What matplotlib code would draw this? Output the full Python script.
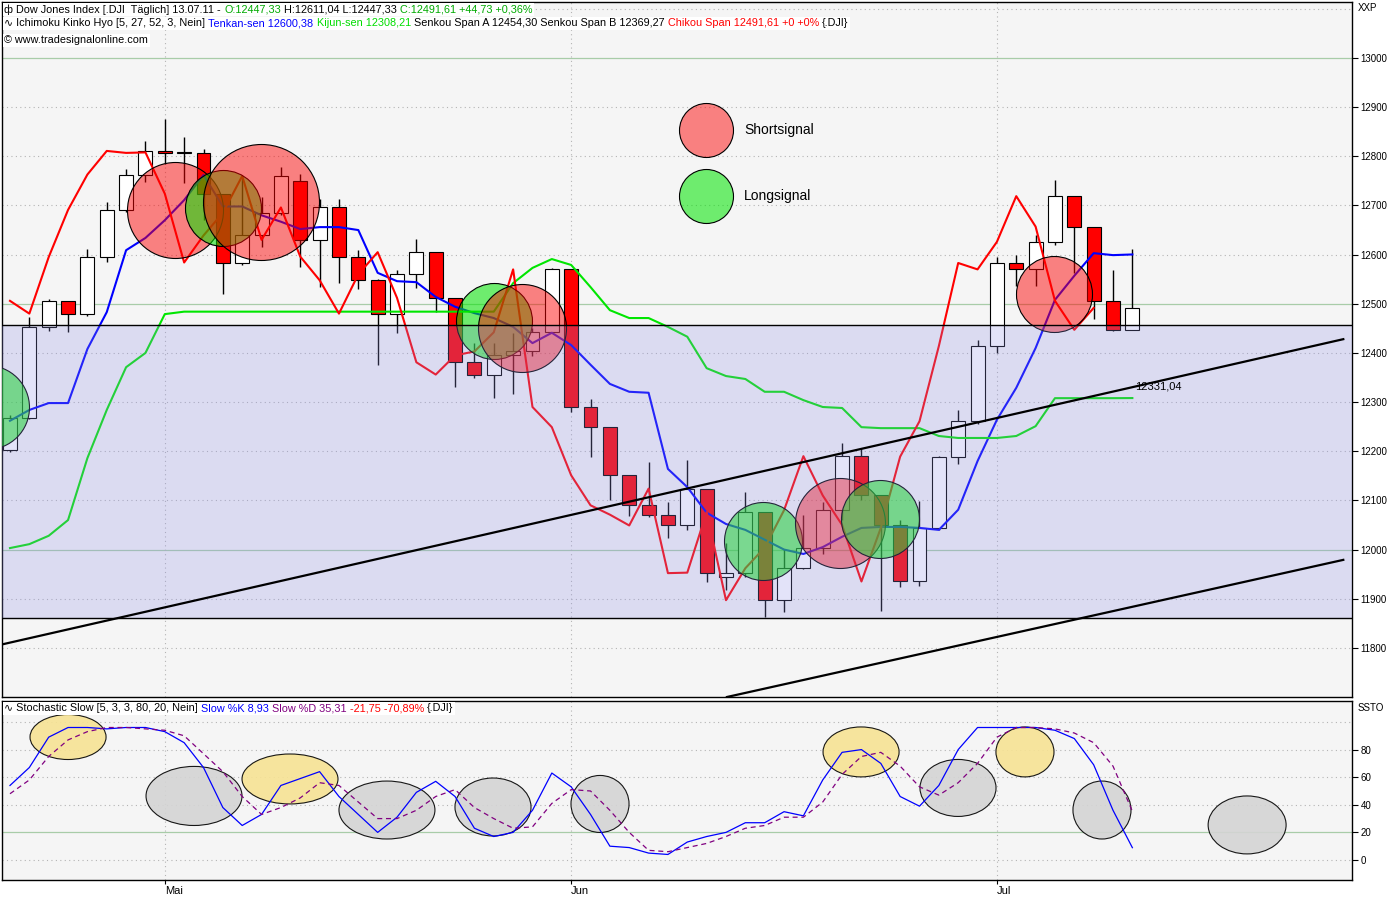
import matplotlib
matplotlib.use("Agg")
import matplotlib.pyplot as plt
from matplotlib.colors import to_rgba
from matplotlib.patches import Ellipse
from matplotlib.offsetbox import TextArea, HPacker, AnchoredOffsetbox

plt.rcParams['font.family'] = ['Liberation Sans', 'DejaVu Sans']

# daily bars 19.04.11 .. 13.07.11 (x = bar number)
opens = [12202, 12267, 12453, 12505, 12480, 12595, 12691, 12763, 12811, 12807,
         12807, 12724, 12584, 12639, 12685, 12750, 12630, 12696, 12596, 12548,
         12480, 12560, 12605, 12512, 12381, 12356, 12395, 12403, 12442, 12570,
         12290, 12249, 12151, 12090, 12071, 12049, 12124, 11945, 11953, 12076,
         11897, 11962, 12004, 12080, 12190, 12110, 12050, 11935, 12044, 12189,
         12261, 12414, 12583, 12570, 12626, 12719, 12657, 12506, 12447.33]
highs = [12274, 12474, 12510, 12506, 12611, 12707, 12774, 12831, 12876, 12839,
         12815, 12724, 12760, 12717, 12778, 12765, 12713, 12713, 12610, 12550,
         12569, 12632, 12605, 12512, 12420, 12420, 12441, 12450, 12573, 12570,
         12306, 12249, 12151, 12178, 12097, 12182, 12124, 12013, 12117, 12076,
         12001, 12070, 12097, 12217, 12207, 12110, 12060, 12099, 12190, 12284,
         12426, 12595, 12600, 12640, 12752, 12719, 12657, 12569, 12611.04]
lows = [12199, 12266, 12445, 12443, 12475, 12585, 12686, 12748, 12784, 12746,
        12670, 12520, 12579, 12616, 12680, 12575, 12534, 12542, 12530, 12376,
        12440, 12532, 12483, 12331, 12349, 12308, 12317, 12394, 12440, 12280,
        12188, 12101, 12068, 12066, 12024, 12040, 11934, 11918, 11945, 11862,
        11873, 11960, 11990, 12060, 12100, 11874, 11924, 11925, 12040, 12174,
        12255, 12400, 12536, 12536, 12620, 12563, 12469, 12445, 12447.33]
closes = [12267, 12453, 12506, 12480, 12595, 12691, 12763, 12811, 12807, 12808,
          12724, 12584, 12639, 12685, 12760, 12630, 12696, 12596, 12548, 12480,
          12560, 12605, 12512, 12381, 12356, 12395, 12403, 12442, 12570, 12290,
          12249, 12151, 12090, 12071, 12049, 12124, 11952, 11953, 12076, 11897,
          11962, 12004, 12080, 12190, 12110, 12050, 11935, 12044, 12189, 12261,
          12414, 12583, 12570, 12626, 12719, 12657, 12506, 12447, 12491.61]

month_pos = [8, 29, 51]
month_names = ['Mai', 'Jun', 'Jul']

tenkan = [12262, 12284, 12298, 12298, 12408, 12483, 12609, 12634, 12670, 12711,
          12762, 12698, 12698, 12680, 12667, 12652, 12656, 12656, 12650, 12563,
          12546, 12544, 12514, 12494, 12481, 12471, 12453, 12420, 12441, 12416,
          12376, 12337, 12321, 12319, 12164, 12127, 12075, 12052, 12040, 12020,
          12000, 11991, 12005, 12026, 12044, 12046, 12046, 12044, 12040, 12081,
          12180, 12264, 12329, 12410, 12508, 12557, 12603, 12599, 12600.38]
kijun = [12003, 12011, 12028, 12060, 12186, 12284, 12371, 12400, 12479, 12484,
         12484, 12484, 12484, 12484, 12484, 12484, 12484, 12484, 12484, 12484,
         12484, 12484, 12484, 12484, 12484, 12484, 12542, 12573, 12591, 12579,
         12534, 12487, 12471, 12471, 12453, 12433, 12369, 12353, 12347, 12321,
         12321, 12304, 12290, 12288, 12249, 12247, 12247, 12247, 12231, 12227,
         12227, 12227, 12231, 12251, 12308, 12308, 12308, 12308, 12308.21]
chikou = closes[2:]  # close drawn two bars back

upper_trend_x = [-0.52, 68.9]
upper_trend_y = [11806, 12428]
lower_trend_x = [37.05, 68.9]
lower_trend_y = [11700, 11979]
band_low, band_high = 11861, 12457

signal_x = [-1.19, 8.53, 11.0, 12.97, 25.0, 26.46, 38.9, 42.9, 44.96, 53.95]
signal_y = [12290, 12691, 12695, 12707, 12465, 12451, 12018, 12054, 12062, 12520]
signal_r = [42, 48, 38, 58, 38, 44, 39, 45, 39, 38]
signal_kind = ['long', 'short', 'long', 'short', 'long', 'short', 'long', 'short', 'long', 'short']

stoch_k = [54, 67, 89, 96, 96, 95, 96, 96, 93, 85,
           67, 38, 25, 33, 54, 59, 64, 46, 33, 20,
           31, 49, 57, 46, 23, 17, 20, 36, 63, 53,
           33, 10, 9, 5, 4, 13, 17, 20, 27, 27,
           35, 32, 58, 78, 80, 70, 46, 39, 54, 80,
           96, 96, 96, 96, 94, 88, 69, 36, 8.93]
stoch_d = [48, 58, 75, 87, 93, 96, 96, 95, 94, 90,
           77, 64, 46, 33, 38, 45, 56, 54, 42, 30,
           30, 36, 46, 51, 38, 30, 23, 24, 41, 51,
           50, 36, 20, 7, 6, 9, 12, 17, 23, 25,
           31, 31, 42, 62, 75, 78, 68, 53, 47, 56,
           70, 89, 96, 96, 95, 92, 85, 68, 35.31]

ell_x = [3.0, 9.51, 14.47, 19.48, 24.96, 30.49, 43.98, 48.99, 52.45, 56.43, 63.93]
ell_y = [89.1, 46.4, 58.7, 36.2, 38.4, 40.6, 78.3, 52.2, 78.3, 36.2, 25.4]
ell_w = [3.93, 4.96, 4.96, 4.96, 3.93, 3.0, 3.93, 3.93, 3.0, 3.0, 4.03]
ell_h = [32.6, 42.8, 36.2, 42.0, 42.0, 41.3, 36.2, 41.3, 36.2, 42.0, 42.0]
ell_kind = ['high', 'low', 'high', 'low', 'low', 'low', 'high', 'low', 'high', 'low', 'low']

W, H = 1400, 900
fig = plt.figure(figsize=(14, 9), dpi=100)
fig.patch.set_facecolor('white')
ax = fig.add_axes([2 / W, 1 - 697 / H, 1350 / W, 695 / H], facecolor='#f5f5f5')
ax2 = fig.add_axes([2 / W, 20 / H, 1350 / W, 179 / H], facecolor='#f5f5f5', sharex=ax)

dotted = dict(color='#b4b4b4', lw=0.8, ls=(0, (1, 3)), zorder=1)
greenline = dict(color='#a8cca8', lw=0.9, zorder=1)

# ---- price panel ----
for lev in range(11800, 13101, 100):
    ax.axhline(lev, **(greenline if lev % 500 == 0 else dotted))
for m in month_pos:
    ax.axvline(m, **dotted)
    ax2.axvline(m, **dotted)

idx = list(range(len(closes)))
body_lo = [min(o, c) for o, c in zip(opens, closes)]
body_h = [max(abs(c - o), 1.0) for o, c in zip(opens, closes)]
body_col = ['white' if c >= o else '#ff0000' for o, c in zip(opens, closes)]
ax.vlines(idx, lows, highs, color='black', lw=1, zorder=2)
ax.bar(idx, body_h, bottom=body_lo, width=0.72, color=body_col,
       edgecolor='black', linewidth=0.8, zorder=3)

ax.plot(idx, tenkan, color='#0000ff', lw=1.5, zorder=4)
ax.plot(idx, kijun, color='#00e600', lw=1.5, zorder=4)
ax.plot(idx[:len(chikou)], chikou, color='#ff0000', lw=1.5, zorder=4)

sig_face = {'short': to_rgba('#ff0000', 0.48), 'long': to_rgba('#00e600', 0.55)}
for x, y, r, k in zip(signal_x, signal_y, signal_r, signal_kind):
    ax.scatter([x], [y], s=(2 * r * 0.72) ** 2, facecolors=[sig_face[k]],
               edgecolors='black', linewidths=0.8, zorder=5)

ax.axhspan(band_low, band_high, color=(145 / 255, 145 / 255, 233 / 255, 0.25), lw=0, zorder=6)
ax.axhline(band_low, color='black', lw=1, zorder=7)
ax.axhline(band_high, color='black', lw=1, zorder=7)
ax.plot(upper_trend_x, upper_trend_y, color='black', lw=1.6, zorder=8)
ax.plot(lower_trend_x, lower_trend_y, color='black', lw=1.6, zorder=8)
ax.text(58.15, 12331, '12331,04', fontsize=8, ha='left', va='center', zorder=9)

# signal legend
ax.scatter([0.5215], [0.816], s=(54 * 0.72) ** 2, facecolors=[sig_face['short']],
           edgecolors='black', linewidths=0.8, transform=ax.transAxes, zorder=9)
ax.scatter([0.5215], [0.721], s=(54 * 0.72) ** 2, facecolors=[sig_face['long']],
           edgecolors='black', linewidths=0.8, transform=ax.transAxes, zorder=9)
ax.text(0.5496, 0.816, 'Shortsignal', transform=ax.transAxes, fontsize=10, va='center')
ax.text(0.5496, 0.721, 'Longsignal', transform=ax.transAxes, fontsize=10, va='center')

ax.set_xlim(-0.413, 69.35)
ax.set_ylim(11700, 13114)
ax.yaxis.tick_right()
ax.set_yticks(range(11800, 13001, 100))
ax.set_yticklabels([str(v) for v in range(11800, 13001, 100)])
ax.tick_params(axis='y', direction='out', length=4, pad=2, labelsize=7)
ax.tick_params(axis='x', bottom=False, labelbottom=False)

# ---- stochastic panel ----
for lev in [0, 40, 60, 80, 100]:
    ax2.axhline(lev, **dotted)
ax2.axhline(20, **greenline)
ell_face = {'high': '#f7e394', 'low': '#d4d4d4'}
for x, y, w, h, k in zip(ell_x, ell_y, ell_w, ell_h, ell_kind):
    ax2.add_patch(Ellipse((x, y), w, h, facecolor=ell_face[k], edgecolor='black',
                          lw=0.8, alpha=0.9, zorder=2))
ax2.plot(idx, stoch_k, color='#0000ff', lw=0.9, zorder=3)
ax2.plot(idx, stoch_d, color='#800080', lw=0.9, ls=(0, (4, 3)), zorder=3)
ax2.set_ylim(-14.5, 115.2)
ax2.yaxis.tick_right()
ax2.set_yticks([0, 20, 40, 60, 80])
ax2.tick_params(axis='y', direction='out', length=4, pad=2, labelsize=7)
ax2.set_xticks(month_pos)
ax2.set_xticklabels(month_names, ha='left')
ax2.tick_params(axis='x', direction='out', length=3, pad=1, labelsize=8)

for a in (ax, ax2):
    for s in a.spines.values():
        s.set_color('black')
        s.set_linewidth(1)

fig.text(1358 / W, 1 - 8 / H, 'XXP', fontsize=7, va='center')
fig.text(1358 / W, 1 - 708 / H, 'SSTO', fontsize=7, va='center')


def header_line(x_px, top_px, parts, size=7.8):
    boxes = [TextArea(t, textprops=dict(color=c, fontsize=size)) for t, c in parts]
    pack = HPacker(children=boxes, align='baseline', pad=0, sep=2.2)
    box = AnchoredOffsetbox(loc='upper left', child=pack, pad=0.1, borderpad=0,
                            frameon=True, bbox_to_anchor=(x_px / W, 1 - top_px / H),
                            bbox_transform=fig.transFigure)
    box.patch.set_facecolor('white')
    box.patch.set_edgecolor('none')
    box.zorder = 10
    fig.add_artist(box)


header_line(3, 3, [('ф Dow Jones Index [.DJI  Täglich] 13.07.11 -', 'black'),
                   ('O:12447,33', '#00aa00'),
                   ('H:12611,04 L:12447,33', 'black'),
                   ('C:12491,61 +44,73 +0,36%', '#00aa00')])
header_line(3, 17, [('∿ Ichimoku Kinko Hyo [5, 27, 52, 3, Nein]', 'black'),
                    ('Tenkan-sen 12600,38', '#0000ff'),
                    ('Kijun-sen 12308,21', '#00dd00'),
                    ('Senkou Span A 12454,30 Senkou Span B 12369,27', 'black'),
                    ('Chikou Span 12491,61 +0 +0%', '#ff0000'),
                    ('{.DJI}', 'black')])
header_line(3, 34, [('© www.tradesignalonline.com', 'black')])
header_line(3, 702, [('∿ Stochastic Slow [5, 3, 3, 80, 20, Nein]', 'black'),
                     ('Slow %K 8,93', '#0000ff'),
                     ('Slow %D 35,31', '#800080'),
                     ('-21,75 -70,89%', '#ff0000'),
                     ('{.DJI}', 'black')])

fig.savefig('out.png', dpi=100)
